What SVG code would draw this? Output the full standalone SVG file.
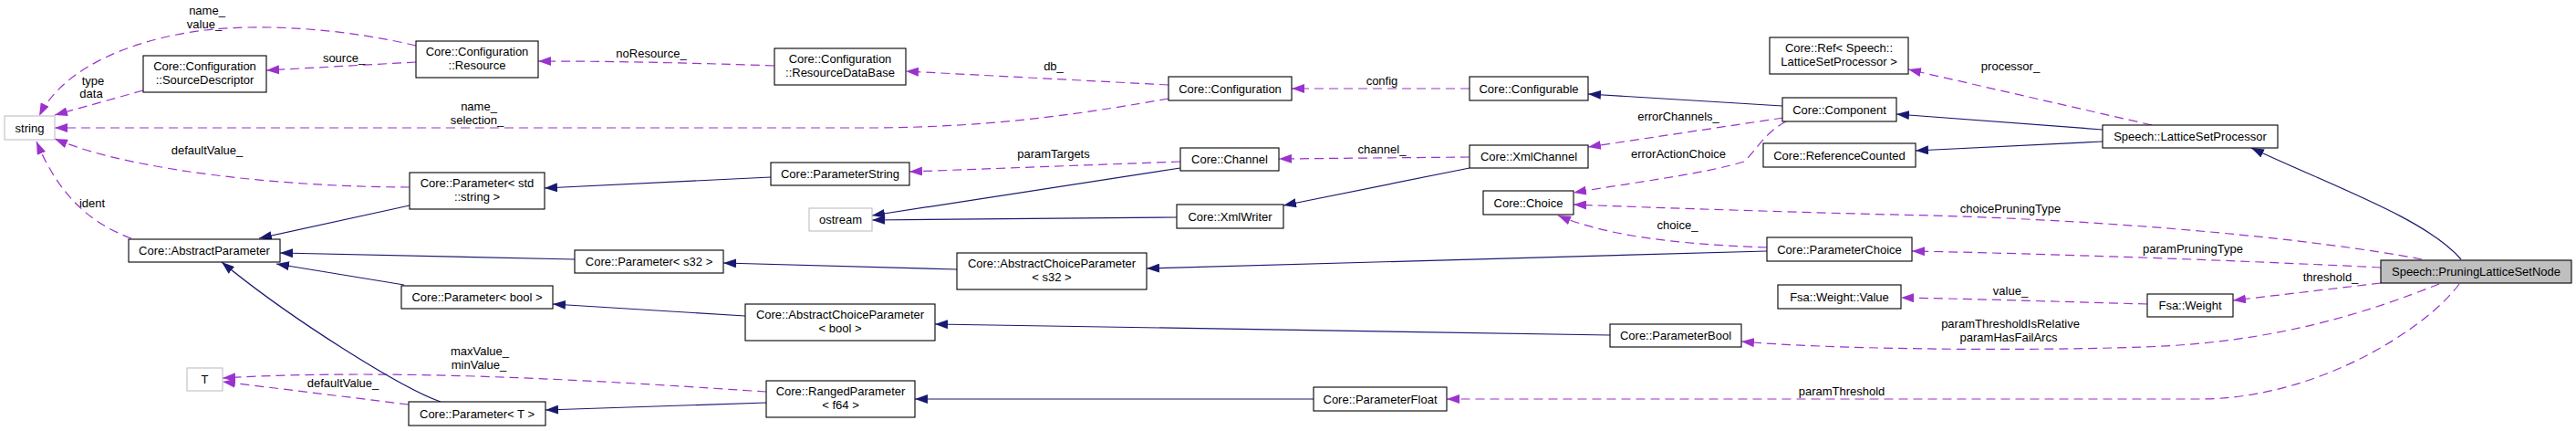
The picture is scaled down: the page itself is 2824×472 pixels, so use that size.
<svg xmlns="http://www.w3.org/2000/svg" width="2824" height="472" viewBox="0 0 2824 472">
<defs>
<marker id="an" markerUnits="userSpaceOnUse" markerWidth="14" markerHeight="10" refX="14" refY="5" orient="auto"><path d="M0,0 L14,5 L0,10 z" fill="#191970"/></marker>
<marker id="ap" markerUnits="userSpaceOnUse" markerWidth="14" markerHeight="10" refX="14" refY="5" orient="auto"><path d="M0,0 L14,5 L0,10 z" fill="#9a32cd"/></marker>
<style>
rect{fill:#fff;stroke:#000;stroke-width:1.1}
.g rect{stroke:#bfbfbf}
.f rect{fill:#bfbfbf}
text{font-family:"Liberation Sans",Arial,Helvetica,sans-serif;font-size:13px;text-anchor:middle;fill:#000}
#edges path{fill:none;stroke-width:1.2}
.s{stroke:#191970;marker-end:url(#an)}
.d{stroke:#9a32cd;stroke-dasharray:10,6;marker-end:url(#ap)}
</style>
</defs>
<rect x="0" y="0" width="2824" height="472" style="fill:#fff;stroke:none"/>
<g id="edges">
<path class="d" d="M456,50 C385,33 295,25 225,33 C150,42 70,72 43,127"/>
<path class="d" d="M456,68 L292,77"/>
<path class="d" d="M157,99 L60,126"/>
<path class="d" d="M1281,108 C1200,122 1100,139 960,140 L60,140"/>
<path class="d" d="M449,205 C330,205 150,190 60,152"/>
<path class="d" d="M144,261 C100,245 65,215 40,155"/>
<path class="d" d="M849,72 C760,69 680,67 590,67"/>
<path class="d" d="M1281,93 L993,78"/>
<path class="d" d="M1611,97 L1416,97"/>
<path class="d" d="M1955,129 L1741,161"/>
<path class="d" d="M1958,133 C1935,145 1925,165 1912,177 C1870,190 1790,200 1725,211"/>
<path class="d" d="M1611,172 L1402,174"/>
<path class="d" d="M1294,177 L997,188"/>
<path class="d" d="M2359,137 L2092,76"/>
<path class="d" d="M2655,284 C2540,262 2330,242 2118,236 C1980,233 1830,228 1725,224"/>
<path class="d" d="M1937,271 C1860,268 1770,262 1708,236"/>
<path class="d" d="M2610,293 C2450,285 2250,278 2096,275"/>
<path class="d" d="M2610,310 L2448,329"/>
<path class="d" d="M2354,333 C2250,330 2150,327 2084,326"/>
<path class="d" d="M2674,311 C2600,340 2500,375 2350,380 C2200,385 2000,382 1909,374"/>
<path class="d" d="M2696,311 C2660,360 2540,437 2411,437 L1586,437"/>
<path class="d" d="M840,429 C700,420 450,402 244,414"/>
<path class="d" d="M448,443 L244,418"/>
<path class="s" d="M845,194 L597,206"/>
<path class="s" d="M449,225 L284,261"/>
<path class="s" d="M630,284 L307,277"/>
<path class="s" d="M443,312 L303,289"/>
<path class="s" d="M483,440 C440,425 320,350 243,287"/>
<path class="s" d="M1049,295 L793,288"/>
<path class="s" d="M817,346 L606,333"/>
<path class="s" d="M840,441 L598,449"/>
<path class="s" d="M1937,275 L1257,294"/>
<path class="s" d="M1765,367 L1025,355"/>
<path class="s" d="M1440,437 L1003,437"/>
<path class="s" d="M1290,238 L956,241"/>
<path class="s" d="M1294,184 L956,236"/>
<path class="s" d="M1611,184 L1407,225"/>
<path class="s" d="M1954,116 L1741,103"/>
<path class="s" d="M2305,142 L2079,125"/>
<path class="s" d="M2305,155 L2100,165"/>
<path class="s" d="M2698,284 C2660,240 2560,205 2468,162"/>
<text x="227" y="16">name_</text>
<text x="224" y="31">value_</text>
<text x="377" y="68">source_</text>
<text x="102" y="93">type</text>
<text x="100" y="107">data</text>
<text x="525" y="121">name_</text>
<text x="523" y="136">selection_</text>
<text x="227" y="169">defaultValue_</text>
<text x="101" y="227">ident</text>
<text x="714" y="63">noResource_</text>
<text x="1155" y="77">db_</text>
<text x="1155" y="173">paramTargets</text>
<text x="1515" y="93">config</text>
<text x="1840" y="132">errorChannels_</text>
<text x="1515" y="168">channel_</text>
<text x="1840" y="173">errorActionChoice</text>
<text x="2204" y="77">processor_</text>
<text x="2204" y="233">choicePruningType</text>
<text x="1839" y="251">choice_</text>
<text x="2404" y="277">paramPruningType</text>
<text x="2555" y="308">threshold_</text>
<text x="2204" y="323">value_</text>
<text x="2204" y="359">paramThresholdIsRelative</text>
<text x="2202" y="374">paramHasFailArcs</text>
<text x="2019" y="433">paramThreshold</text>
<text x="526" y="389">maxValue_</text>
<text x="525" y="404">minValue_</text>
<text x="376" y="424">defaultValue_</text>
</g>
<g id="n_string" class="g"><rect x="5" y="127" width="55" height="26"/><text x="32.5" y="144.5">string</text></g>
<g id="n_sourcedescriptor"><rect x="157" y="61" width="135" height="40"/><text x="224.5" y="77">Core::Configuration</text><text x="224.5" y="92">::SourceDescriptor</text></g>
<g id="n_resource"><rect x="456" y="45" width="134" height="40"/><text x="523" y="61">Core::Configuration</text><text x="523" y="76">::Resource</text></g>
<g id="n_resourcedatabase"><rect x="849" y="53" width="144" height="40"/><text x="921" y="69">Core::Configuration</text><text x="921" y="84">::ResourceDataBase</text></g>
<g id="n_configuration"><rect x="1281" y="84" width="135" height="26"/><text x="1348.5" y="101.5">Core::Configuration</text></g>
<g id="n_configurable"><rect x="1611" y="84" width="130" height="26"/><text x="1676" y="101.5">Core::Configurable</text></g>
<g id="n_ref"><rect x="1940" y="41" width="152" height="40"/><text x="2016" y="57">Core::Ref&lt; Speech::</text><text x="2016" y="72">LatticeSetProcessor &gt;</text></g>
<g id="n_component"><rect x="1954" y="107" width="125" height="26"/><text x="2016.5" y="124.5">Core::Component</text></g>
<g id="n_latticesetprocessor"><rect x="2305" y="137" width="192" height="25"/><text x="2401" y="154">Speech::LatticeSetProcessor</text></g>
<g id="n_referencecounted"><rect x="1933" y="157" width="167" height="26"/><text x="2016.5" y="174.5">Core::ReferenceCounted</text></g>
<g id="n_xmlchannel"><rect x="1611" y="159" width="130" height="25"/><text x="1676" y="176">Core::XmlChannel</text></g>
<g id="n_channel"><rect x="1294" y="162" width="108" height="25"/><text x="1348" y="179">Core::Channel</text></g>
<g id="n_parameterstring"><rect x="845" y="178" width="152" height="25"/><text x="921" y="195">Core::ParameterString</text></g>
<g id="n_parameter_string"><rect x="449" y="189" width="148" height="40"/><text x="523" y="205">Core::Parameter&lt; std</text><text x="523" y="220">::string &gt;</text></g>
<g id="n_choice"><rect x="1626" y="209" width="99" height="26"/><text x="1675.5" y="226.5">Core::Choice</text></g>
<g id="n_xmlwriter"><rect x="1290" y="224" width="117" height="26"/><text x="1348.5" y="241.5">Core::XmlWriter</text></g>
<g id="n_ostream" class="g"><rect x="887" y="228" width="69" height="25"/><text x="921.5" y="245">ostream</text></g>
<g id="n_abstractparameter"><rect x="141" y="262" width="166" height="25"/><text x="224" y="279">Core::AbstractParameter</text></g>
<g id="n_parameter_s32"><rect x="630" y="274" width="163" height="25"/><text x="711.5" y="291">Core::Parameter&lt; s32 &gt;</text></g>
<g id="n_acp_s32"><rect x="1049" y="277" width="208" height="40"/><text x="1153" y="293">Core::AbstractChoiceParameter</text><text x="1153" y="308">&lt; s32 &gt;</text></g>
<g id="n_parameterchoice"><rect x="1937" y="260" width="159" height="26"/><text x="2016.5" y="277.5">Core::ParameterChoice</text></g>
<g id="n_pruninglatticesetnode" class="f"><rect x="2610" y="285" width="209" height="25"/><text x="2714.5" y="302">Speech::PruningLatticeSetNode</text></g>
<g id="n_parameter_bool"><rect x="440" y="313" width="166" height="25"/><text x="523" y="330">Core::Parameter&lt; bool &gt;</text></g>
<g id="n_weight_value"><rect x="1949" y="312" width="135" height="26"/><text x="2016.5" y="329.5">Fsa::Weight::Value</text></g>
<g id="n_weight"><rect x="2354" y="322" width="94" height="25"/><text x="2401" y="339">Fsa::Weight</text></g>
<g id="n_acp_bool"><rect x="817" y="333" width="208" height="40"/><text x="921" y="349">Core::AbstractChoiceParameter</text><text x="921" y="364">&lt; bool &gt;</text></g>
<g id="n_parameterbool"><rect x="1765" y="355" width="144" height="25"/><text x="1837" y="372">Core::ParameterBool</text></g>
<g id="n_t" class="g"><rect x="205" y="403" width="39" height="25"/><text x="224.5" y="420">T</text></g>
<g id="n_rangedparameter"><rect x="840" y="417" width="163" height="40"/><text x="921.5" y="433">Core::RangedParameter</text><text x="921.5" y="448">&lt; f64 &gt;</text></g>
<g id="n_parameterfloat"><rect x="1440" y="424" width="146" height="26"/><text x="1513" y="441.5">Core::ParameterFloat</text></g>
<g id="n_parameter_t"><rect x="448" y="440" width="150" height="26"/><text x="523" y="457.5">Core::Parameter&lt; T &gt;</text></g>
</svg>
